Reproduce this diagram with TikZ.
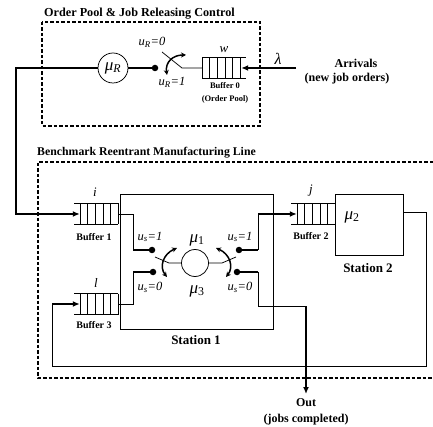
\documentclass[tikz,border=0pt]{standalone}
\usepackage{fontspec}
\setmainfont{Liberation Serif}
\usetikzlibrary{arrows.meta}
\newcommand\qbuf[4]{%
  \node[bufn] (#1) at (#2,#3) {};
  \draw[bufl] ({#2-22},{#3-10.5}) -- ({#2+22},{#3-10.5}) ({#2-22},{#3+10.5}) -- ({#2+22},{#3+10.5});
  \foreach \k in {0,...,5}{\draw[bufl] ({#2-22+#4+\k*7.6},{#3-10.5}) -- ({#2-22+#4+\k*7.6},{#3+10.5});}%
}
\begin{document}
\begin{tikzpicture}[x=1pt,y=-1pt,
  thinl/.style={line width=0.75pt},
  bufl/.style={line width=0.6pt},
  thickl/.style={line width=1.7pt},
  dashbox/.style={line width=1.4pt, dash pattern=on 3.5pt off 2pt},
  bufn/.style={inner sep=0pt, minimum width=44pt, minimum height=21pt},
  dotn/.style={circle, fill, inner sep=0pt, minimum size=6.5pt},
  srv/.style={circle, draw, line width=0.75pt, inner sep=0pt},
  arr/.style={-{Latex[length=7pt,width=6pt]}},
  sw/.style={line width=1.5pt, {Stealth[length=5pt,width=5pt]}-{Stealth[length=5pt,width=5pt]}},
  ttl/.style={font=\fontsize{12.2}{12}\selectfont\bfseries, inner sep=0pt},
  blab/.style={font=\fontsize{10}{10}\selectfont\bfseries, inner sep=0pt},
  slab/.style={font=\fontsize{8.5}{9}\selectfont\bfseries, inner sep=0pt},
  ulab/.style={font=\fontsize{12.5}{12}\selectfont\itshape, inner sep=0pt},
  vlab/.style={font=\fontsize{13}{12}\selectfont\itshape, inner sep=0pt},
  mlab/.style={font=\fontsize{17}{16}\selectfont\itshape, inner sep=0pt},
  big/.style={font=\fontsize{12}{12}\selectfont\bfseries, inner sep=0pt},
  stl/.style={font=\fontsize{13}{13}\selectfont\bfseries, inner sep=0pt},
  box/.style={draw, line width=0.8pt, inner sep=0pt}]
\useasboundingbox (0,0) rectangle (433,427);

% ---------- Order pool ----------
\draw[dashbox] (42,22) rectangle (260,126);
\node[ttl, anchor=west] (t1) at (44,14) {Order Pool \& Job Releasing Control};

\node[srv, minimum size=30pt] (muR) at (113,68) {\fontsize{17}{16}\selectfont\itshape μ\textsubscript{R}};
\node[dotn] (dR) at (155,68) {};
\qbuf{b0}{224}{68}{0}
\coordinate (lvR1) at (162,52);
\coordinate (lvR2) at (182,68);
\coordinate (arrS) at (296,68);
\coordinate (L1) at (16,68);
\coordinate (L2) at (16,214);

\draw[thinl] (lvR1) -- (lvR2) -- (b0.west);
\draw[sw] (167,75) .. controls (165,62) and (173,55) .. (186,55);
\draw[thickl] (muR.east) -- (dR);
\draw[thickl, arr] (arrS) -- ([xshift=-5pt]b0.east);

\node[font=\fontsize{16}{16}\selectfont\itshape, inner sep=0pt] (lam) at (278,59) {λ};
\node[big] (arrv) at (356,63) {Arrivals};
\node[big] (arrv2) at (347,79) {(new job orders)};
\node[ulab] (uR0) at (152,42) {u\textsubscript{R}=0};
\node[ulab] (uR1) at (172,82) {u\textsubscript{R}=1};
\node[vlab] (wl) at (224,50) {w};
\node[slab] (b0l) at (225,86) {Buffer 0};
\node[slab] (b0l2) at (225,99) {(Order Pool)};

% ---------- Manufacturing line ----------
\draw[dashbox] (433,162) -- (38,162) -- (38,378) -- (433,378);
\node[font=\fontsize{11.8}{12}\selectfont\bfseries, inner sep=0pt, anchor=west] (t2) at (37,153) {Benchmark Reentrant Manufacturing Line};

\node[box, minimum width=153pt, minimum height=135pt] (st1) at (196.5,261.5) {};
\node[box, minimum width=68pt, minimum height=61pt] (st2) at (369,224.5) {};

\qbuf{b1}{96}{214}{6}
\qbuf{b3}{96}{304}{6}
\qbuf{b2}{313}{214}{6}

\draw[thickl, arr] (muR.west) -- (L1) -- (L2) -- ([xshift=6pt]b1.west);

\node[srv, minimum size=27pt] (cc) at (195,263) {};
\node[dotn] (dl1) at (152,250) {};
\node[dotn] (dl0) at (153,272) {};
\node[dotn] (dr1) at (239,250) {};
\node[dotn] (dr0) at (237,272) {};

\coordinate (cl1) at (133,250);
\coordinate (cl0) at (133,272);
\coordinate (cr1) at (258,250);
\coordinate (cr1t) at (258,214);
\coordinate (cr0) at (258,272);
\coordinate (cr0b) at (258,306);
\coordinate (cout) at (306,306);
\coordinate (outp) at (306,394);

\draw[thinl] (b1.east) -| (cl1);
\draw[thickl] (cl1) -- (dl1);
\draw[thinl] (b3.east) -| (cl0);
\draw[thickl] (cl0) -- (dl0);
\draw[thickl] (dr1) -- (cr1);
\draw[thinl] (cr1) -- (cr1t);
\draw[thickl, arr] (cr1t) -- ([xshift=6pt]b2.west);
\draw[thickl] (dr0) -- (cr0);
\draw[thinl] (cr0) -- (cr0b) -- (cout);
\draw[thickl, arr] (cout) -- (outp);

% levers
\draw[thinl] (cc.west) -- (169,263) -- (155,257);
\draw[thinl] (cc.east) -- (222,263) -- (236,257);
\draw[sw] (167,277) .. controls (159,267) and (163,254) .. (177,248);
\draw[sw] (226,277) .. controls (234,267) and (230,254) .. (216,248);

% loop back
\coordinate (s2o) at (403,212);
\coordinate (lp1) at (426,212);
\coordinate (lp2) at (426,366);
\coordinate (lp3) at (52,366);
\coordinate (lp4) at (52,304);
\draw[thinl] (s2o) -- (lp1) -- (lp2) -- (lp3) -- (lp4);
\draw[thickl, arr] (lp4) -- ([xshift=6pt]b3.west);

% labels
\node[vlab] (il) at (95,192) {i};
\node[blab] (b1l) at (94,237) {Buffer 1};
\node[vlab] (ll) at (96,283) {l};
\node[blab] (b3l) at (94,325) {Buffer 3};
\node[vlab] (jl) at (311,191) {j};
\node[blab] (b2l) at (311,236) {Buffer 2};
\node[mlab] (mu2) at (352,217) {μ\textsubscript{\upshape 2}};
\node[stl] (s2l) at (368,268) {Station 2};
\node[stl] (s1l) at (196,340) {Station 1};
\node[mlab] (mu1) at (197,240) {μ\textsubscript{\upshape 1}};
\node[mlab] (mu3) at (197,291) {μ\textsubscript{\upshape 3}};
\node[ulab] (us1l) at (150,237) {u\textsubscript{s}=1};
\node[ulab] (us0l) at (150,287) {u\textsubscript{s}=0};
\node[ulab] (us1r) at (240,237) {u\textsubscript{s}=1};
\node[ulab] (us0r) at (240,287) {u\textsubscript{s}=0};
\node[big] (outl) at (306,403) {Out};
\node[big] (outl2) at (306,420) {(jobs completed)};
\end{tikzpicture}
\end{document}
